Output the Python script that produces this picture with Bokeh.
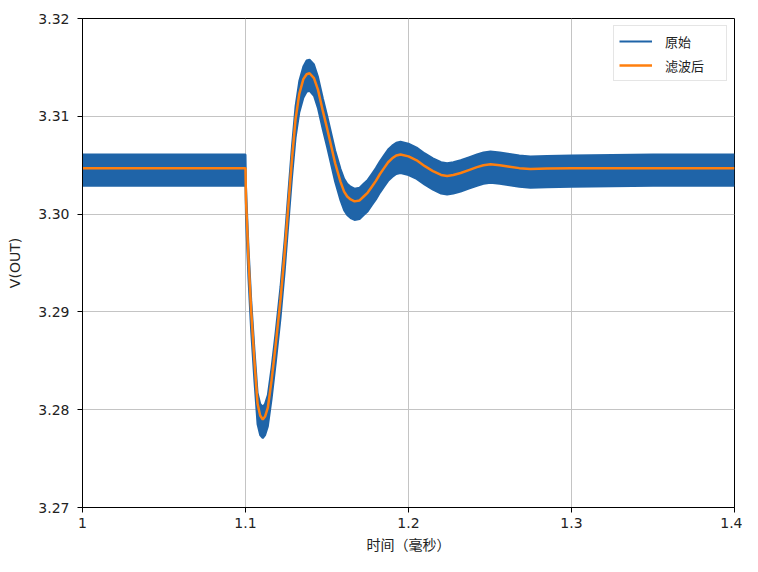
from bokeh.plotting import figure
from bokeh.models import FixedTicker, Legend, LegendItem
from bokeh.embed import file_html
from bokeh.resources import INLINE

# time (ms)
t = [1.000, 1.050, 1.0995, 1.1000, 1.1003, 1.1018, 1.1035, 1.1055, 1.1074, 1.1090,
     1.1106, 1.1120, 1.1137, 1.1160, 1.1185, 1.1215, 1.1240, 1.1260, 1.1285, 1.1307,
     1.1330, 1.1355, 1.1375, 1.1393, 1.1420, 1.1445, 1.1475, 1.1500, 1.1521, 1.1550,
     1.1583, 1.1605, 1.1624, 1.1645, 1.1669, 1.1700, 1.1725, 1.1750, 1.1775, 1.1800,
     1.1825, 1.1850, 1.1875, 1.1900, 1.1925, 1.1951, 1.2000, 1.2050, 1.2100, 1.2150,
     1.2200, 1.2237, 1.2275, 1.2320, 1.2370, 1.2420, 1.2460, 1.2503, 1.2560, 1.2620,
     1.2680, 1.2748, 1.2850, 1.3000, 1.3500, 1.4000]

# filtered signal (V)
filtered = [3.3047, 3.3047, 3.3047, 3.3047, 3.3015, 3.2955, 3.2900, 3.2849, 3.2806, 3.2794,
            3.2790, 3.2793, 3.2802, 3.2830, 3.2866, 3.2913, 3.2960, 3.3003, 3.3056, 3.3097,
            3.3123, 3.3138, 3.3143, 3.3144, 3.3139, 3.3127, 3.3105, 3.3088, 3.3073, 3.3052,
            3.3033, 3.3023, 3.3018, 3.3015, 3.3013, 3.3014, 3.3018, 3.3022, 3.3028, 3.3034,
            3.3041, 3.3047, 3.3053, 3.3057, 3.3060, 3.3061, 3.3059, 3.3055, 3.3049, 3.3044,
            3.3040, 3.3039, 3.3040, 3.3042, 3.3045, 3.3048, 3.3050, 3.3051, 3.3050, 3.30485,
            3.3047, 3.3046, 3.30465, 3.3047, 3.3047, 3.3047]

# raw signal: centre of the noisy band (V)
raw_mid = [3.3045, 3.3045, 3.3045, 3.3045, 3.3012, 3.2951, 3.2896, 3.2845, 3.2801, 3.2790,
           3.2787, 3.2790, 3.2799, 3.2827, 3.2863, 3.2910, 3.2957, 3.3000, 3.3053, 3.3094,
           3.3120, 3.3135, 3.3141, 3.3142, 3.3137, 3.3124, 3.3102, 3.3085, 3.3070, 3.3049,
           3.3030, 3.3020, 3.3015, 3.3012, 3.3010, 3.3011, 3.3015, 3.3019, 3.3025, 3.3031,
           3.3038, 3.3044, 3.3050, 3.3054, 3.3057, 3.3058, 3.3056, 3.3052, 3.3046, 3.3041,
           3.3037, 3.3036, 3.3037, 3.3039, 3.3042, 3.3045, 3.3047, 3.3048, 3.3047, 3.30455,
           3.3044, 3.3043, 3.30435, 3.3044, 3.3045, 3.3045]
# half width of the noise band (V)
noise_half = 0.0016

x_ticks = [1.0, 1.1, 1.2, 1.3, 1.4]
x_tick_labels = ["1", "1.1", "1.2", "1.3", "1.4"]
y_ticks = [3.27, 3.28, 3.29, 3.30, 3.31, 3.32]
y_tick_labels = ["3.27", "3.28", "3.29", "3.30", "3.31", "3.32"]

series_names = ["原始", "滤波后"]
x_label = "时间（毫秒）"
y_label = "V(OUT)"

BLUE = "#1f64a8"
ORANGE = "#ff7f0e"

upper = [m + noise_half for m in raw_mid]
lower = [m - noise_half for m in raw_mid]

p = figure(width=742, height=556, x_range=(1.0, 1.4), y_range=(3.27, 3.32),
           output_backend="svg", toolbar_location=None,
           min_border_left=82, min_border_right=8, min_border_top=18, min_border_bottom=46)
p.background_fill_color = "white"
p.border_fill_color = "white"
p.outline_line_color = "black"
p.outline_line_width = 1
p.outline_line_alpha = 1

p.varea(x=t, y1=lower, y2=upper, fill_color=BLUE, fill_alpha=1)
r_raw = p.line(t, upper, line_color=BLUE, line_width=2)
p.line(t, lower, line_color=BLUE, line_width=2)
r_f = p.line(t, filtered, line_color=ORANGE, line_width=2.5)

p.xaxis.ticker = FixedTicker(ticks=x_ticks)
p.xaxis.major_label_overrides = dict(zip(x_ticks, x_tick_labels))
p.yaxis.ticker = FixedTicker(ticks=y_ticks)
p.yaxis.major_label_overrides = dict(zip(y_ticks, y_tick_labels))

for ax in (p.xaxis, p.yaxis):
    ax.axis_line_color = "black"
    ax.major_tick_line_color = "black"
    ax.minor_tick_line_color = None
    ax.major_tick_out = 5
    ax.major_tick_in = 0
    ax.major_label_text_font = "DejaVu Sans"
    ax.major_label_text_font_size = "14px"
    ax.major_label_text_color = "#222222"
    ax.axis_label_text_font_style = "normal"
    ax.axis_label_text_font_size = "14px"
    ax.axis_label_text_color = "#222222"

p.xaxis.axis_label = x_label
p.xaxis.axis_label_text_font = "Noto Sans CJK SC"
p.xaxis.major_label_standoff = 5
p.xaxis.axis_label_standoff = 3
p.yaxis.axis_label = y_label
p.yaxis.axis_label_text_font = "DejaVu Sans"
p.yaxis.major_label_standoff = 8
p.yaxis.axis_label_standoff = 12

p.grid.grid_line_color = "#c4c4c4"
p.grid.grid_line_width = 1

legend = Legend(items=[LegendItem(label=series_names[0], renderers=[r_raw]),
                       LegendItem(label=series_names[1], renderers=[r_f])],
                location="top_right")
legend.label_text_font = "Noto Sans CJK SC"
legend.label_text_font_size = "13px"
legend.label_text_color = "#222222"
legend.border_line_color = "#cccccc"
legend.border_line_width = 1
legend.background_fill_alpha = 0.85
legend.padding = 5
legend.spacing = 4
legend.glyph_width = 33
legend.glyph_height = 20
legend.label_height = 20
legend.label_standoff = 13
legend.label_width = 56
legend.margin = 7
p.add_layout(legend)

open("out.html", "w").write(file_html(p, INLINE))
